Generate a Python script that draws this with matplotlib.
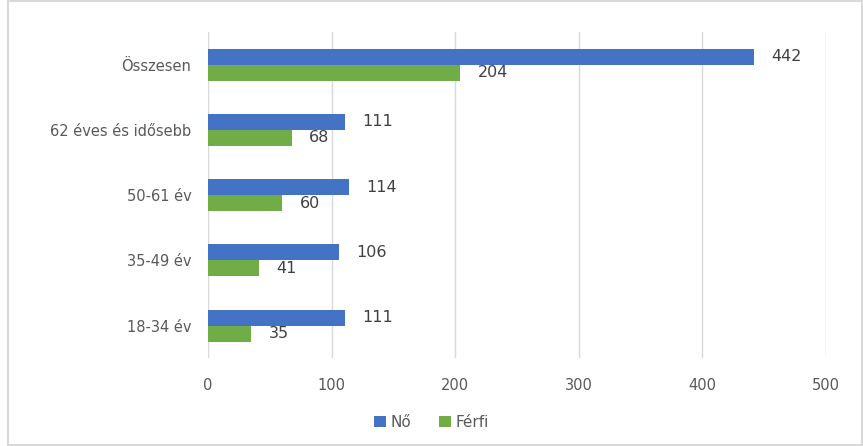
import matplotlib.pyplot as plt
from matplotlib.patches import Rectangle
import numpy as np

categories = ["18-34 év", "35-49 év", "50-61 év", "62 éves és idősebb", "Összesen"]
no_values = [111, 106, 114, 111, 442]
ferfi_values = [35, 41, 60, 68, 204]
xticks = [0, 100, 200, 300, 400, 500]

plt.rcParams["font.family"] = ["DejaVu Sans"]

fig = plt.figure(figsize=(8.63, 4.46), dpi=100)
ax = fig.add_axes([0.241, 0.197, 0.716, 0.731])

y = np.arange(len(categories))
h = 0.245
bars_no = ax.barh(y + h / 2, no_values, height=h, color="#4472C4", label="Nő")
bars_f = ax.barh(y - h / 2, ferfi_values, height=h, color="#70AD47", label="Férfi")

for rect, v in zip(bars_no, no_values):
    ax.text(v + 14, rect.get_y() + rect.get_height() / 2, str(v),
            va="center", ha="left", fontsize=11.5, color="#404040")
for rect, v in zip(bars_f, ferfi_values):
    ax.text(v + 14, rect.get_y() + rect.get_height() / 2, str(v),
            va="center", ha="left", fontsize=11.5, color="#404040")

ax.set_xlim(0, 500)
ax.set_ylim(-0.5, len(categories) - 0.5)
ax.set_xticks(xticks)
ax.set_yticks(y)
ax.set_yticklabels(categories)
ax.tick_params(axis="both", length=0, labelsize=10.5, colors="#595959")
ax.tick_params(axis="x", pad=14)
ax.tick_params(axis="y", pad=12)
ax.grid(axis="x", color="#D9D9D9", linewidth=1)
ax.set_axisbelow(True)
for s in ax.spines.values():
    s.set_visible(False)

fig.legend(loc="center", bbox_to_anchor=(0.5, 0.053), ncol=2, frameon=False,
           fontsize=11, handlelength=0.8, handleheight=0.8, handletextpad=0.3,
           columnspacing=1.8, labelcolor="#595959")

fig.patches.append(Rectangle((0.009, 0.002), 0.99, 0.996, transform=fig.transFigure,
                             fill=False, edgecolor="#D9D9D9", linewidth=1.5))

fig.savefig("out.png", dpi=100)
